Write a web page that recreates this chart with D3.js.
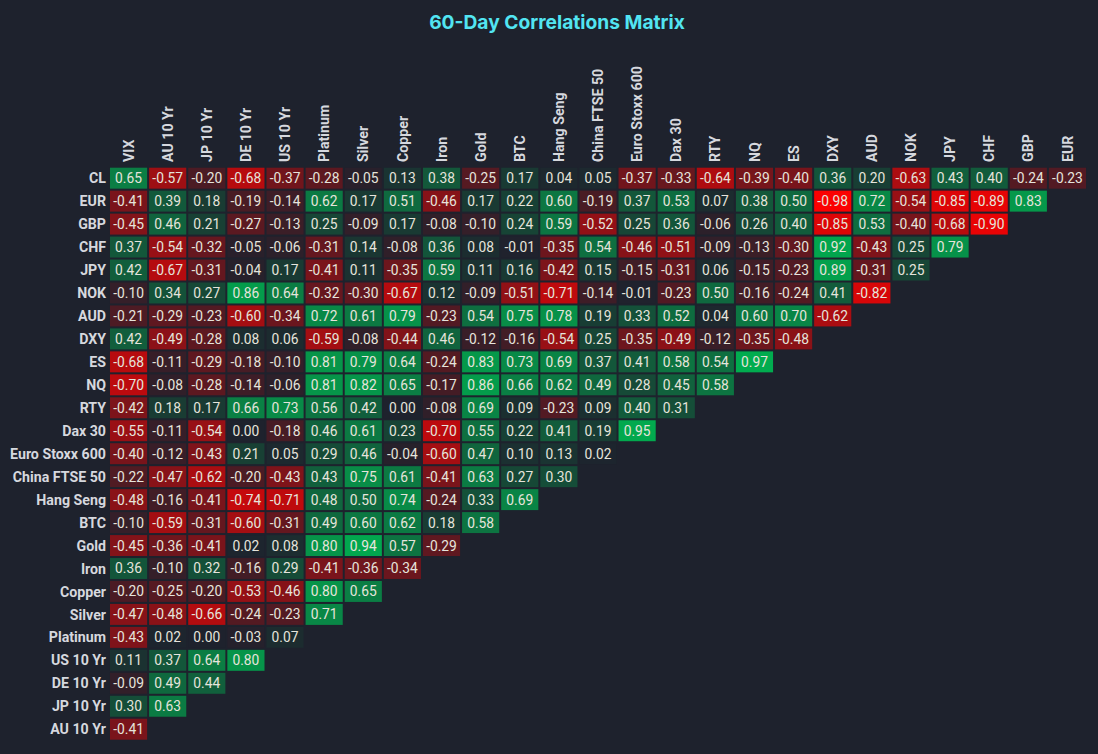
<!DOCTYPE html>
<html>
<head>
<meta charset="utf-8">
<script src="https://cdn.jsdelivr.net/npm/d3@7"></script>
<style>
  html, body { margin: 0; padding: 0; background: #1e222d; }
  svg { display: block; }
</style>
</head>
<body>
<svg id="chart" width="1098" height="754"></svg>
<script>
const title = "60-Day Correlations Matrix";

const columns = ["VIX", "AU 10 Yr", "JP 10 Yr", "DE 10 Yr", "US 10 Yr", "Platinum", "Silver", "Copper", "Iron", "Gold", "BTC", "Hang Seng", "China FTSE 50", "Euro Stoxx 600", "Dax 30", "RTY", "NQ", "ES", "DXY", "AUD", "NOK", "JPY", "CHF", "GBP", "EUR"];

const rows = ["CL", "EUR", "GBP", "CHF", "JPY", "NOK", "AUD", "DXY", "ES", "NQ", "RTY", "Dax 30", "Euro Stoxx 600", "China FTSE 50", "Hang Seng", "BTC", "Gold", "Iron", "Copper", "Silver", "Platinum", "US 10 Yr", "DE 10 Yr", "JP 10 Yr", "AU 10 Yr"];

// values per row, in column order (lower-left triangle)
const values = [
  [0.65, -0.57, -0.20, -0.68, -0.37, -0.28, -0.05, 0.13, 0.38, -0.25, 0.17, 0.04, 0.05, -0.37, -0.33, -0.64, -0.39, -0.40, 0.36, 0.20, -0.63, 0.43, 0.40, -0.24, -0.23],
  [-0.41, 0.39, 0.18, -0.19, -0.14, 0.62, 0.17, 0.51, -0.46, 0.17, 0.22, 0.60, -0.19, 0.37, 0.53, 0.07, 0.38, 0.50, -0.98, 0.72, -0.54, -0.85, -0.89, 0.83],
  [-0.45, 0.46, 0.21, -0.27, -0.13, 0.25, -0.09, 0.17, -0.08, -0.10, 0.24, 0.59, -0.52, 0.25, 0.36, -0.06, 0.26, 0.40, -0.85, 0.53, -0.40, -0.68, -0.90],
  [0.37, -0.54, -0.32, -0.05, -0.06, -0.31, 0.14, -0.08, 0.36, 0.08, -0.01, -0.35, 0.54, -0.46, -0.51, -0.09, -0.13, -0.30, 0.92, -0.43, 0.25, 0.79],
  [0.42, -0.67, -0.31, -0.04, 0.17, -0.41, 0.11, -0.35, 0.59, 0.11, 0.16, -0.42, 0.15, -0.15, -0.31, 0.06, -0.15, -0.23, 0.89, -0.31, 0.25],
  [-0.10, 0.34, 0.27, 0.86, 0.64, -0.32, -0.30, -0.67, 0.12, -0.09, -0.51, -0.71, -0.14, -0.01, -0.23, 0.50, -0.16, -0.24, 0.41, -0.82],
  [-0.21, -0.29, -0.23, -0.60, -0.34, 0.72, 0.61, 0.79, -0.23, 0.54, 0.75, 0.78, 0.19, 0.33, 0.52, 0.04, 0.60, 0.70, -0.62],
  [0.42, -0.49, -0.28, 0.08, 0.06, -0.59, -0.08, -0.44, 0.46, -0.12, -0.16, -0.54, 0.25, -0.35, -0.49, -0.12, -0.35, -0.48],
  [-0.68, -0.11, -0.29, -0.18, -0.10, 0.81, 0.79, 0.64, -0.24, 0.83, 0.73, 0.69, 0.37, 0.41, 0.58, 0.54, 0.97],
  [-0.70, -0.08, -0.28, -0.14, -0.06, 0.81, 0.82, 0.65, -0.17, 0.86, 0.66, 0.62, 0.49, 0.28, 0.45, 0.58],
  [-0.42, 0.18, 0.17, 0.66, 0.73, 0.56, 0.42, 0.00, -0.08, 0.69, 0.09, -0.23, 0.09, 0.40, 0.31],
  [-0.55, -0.11, -0.54, 0.00, -0.18, 0.46, 0.61, 0.23, -0.70, 0.55, 0.22, 0.41, 0.19, 0.95],
  [-0.40, -0.12, -0.43, 0.21, 0.05, 0.29, 0.46, -0.04, -0.60, 0.47, 0.10, 0.13, 0.02],
  [-0.22, -0.47, -0.62, -0.20, -0.43, 0.43, 0.75, 0.61, -0.41, 0.63, 0.27, 0.30],
  [-0.48, -0.16, -0.41, -0.74, -0.71, 0.48, 0.50, 0.74, -0.24, 0.33, 0.69],
  [-0.10, -0.59, -0.31, -0.60, -0.31, 0.49, 0.60, 0.62, 0.18, 0.58],
  [-0.45, -0.36, -0.41, 0.02, 0.08, 0.80, 0.94, 0.57, -0.29],
  [0.36, -0.10, 0.32, -0.16, 0.29, -0.41, -0.36, -0.34],
  [-0.20, -0.25, -0.20, -0.53, -0.46, 0.80, 0.65],
  [-0.47, -0.48, -0.66, -0.24, -0.23, 0.71],
  [-0.43, 0.02, 0.00, -0.03, 0.07],
  [0.11, 0.37, 0.64, 0.80],
  [-0.09, 0.49, 0.44],
  [0.30, 0.63],
  [-0.41]
];

const BG = "#1e222d";
const NEG = "#ff0000";
const POS = "#00b050";

const cells = [];
values.forEach((rowVals, i) => {
  rowVals.forEach((v, j) => cells.push({ row: rows[i], col: columns[j], v }));
});

const svg = d3.select("#chart");

const x = d3.scaleBand().domain(columns).range([109, 1087]).paddingInner(0.05).paddingOuter(0.025);
const y = d3.scaleBand().domain(rows).range([166.7, 740.7]).paddingInner(0.087).paddingOuter(0.0435);

const negI = d3.interpolateRgb(BG, NEG);
const posI = d3.interpolateRgb(BG, POS);
const color = v => v < 0 ? negI(Math.min(1, -v)) : posI(Math.min(1, v));

svg.append("text")
  .attr("x", 557).attr("y", 29)
  .attr("text-anchor", "middle")
  .attr("font-family", "Inter, 'Noto Sans', sans-serif")
  .attr("font-weight", 700)
  .attr("font-size", 19.2)
  .attr("fill", "#52e5f2")
  .text(title);

const g = svg.append("g");

g.selectAll("rect.cell").data(cells).join("rect")
  .attr("class", "cell")
  .attr("x", d => x(d.col))
  .attr("y", d => y(d.row))
  .attr("width", x.bandwidth())
  .attr("height", y.bandwidth())
  .attr("fill", d => color(d.v));

g.selectAll("text.val").data(cells).join("text")
  .attr("class", "val")
  .attr("x", d => x(d.col) + x.bandwidth() / 2)
  .attr("y", d => y(d.row) + y.bandwidth() / 2)
  .attr("dy", "0.36em")
  .attr("text-anchor", "middle")
  .attr("font-family", "Roboto, 'Liberation Sans', sans-serif")
  .attr("font-size", 13.8)
  .attr("fill", "#e6e4dc")
  .text(d => d.v.toFixed(2));

// row labels
svg.append("g").selectAll("text").data(rows).join("text")
  .attr("x", 106)
  .attr("y", d => y(d) + y.bandwidth() / 2)
  .attr("dy", "0.36em")
  .attr("text-anchor", "end")
  .attr("font-family", "Roboto, 'Liberation Sans', sans-serif")
  .attr("font-weight", 700)
  .attr("font-size", 14.2)
  .attr("fill", "#d6d8de")
  .text(d => d);

// column labels
svg.append("g").selectAll("text").data(columns).join("text")
  .attr("transform", d => `translate(${x(d) + x.bandwidth() / 2},162) rotate(-90)`)
  .attr("dy", "0.36em")
  .attr("text-anchor", "start")
  .attr("font-family", "Roboto, 'Liberation Sans', sans-serif")
  .attr("font-weight", 700)
  .attr("font-size", 14.2)
  .attr("fill", "#d6d8de")
  .text(d => d);
</script>
</body>
</html>
